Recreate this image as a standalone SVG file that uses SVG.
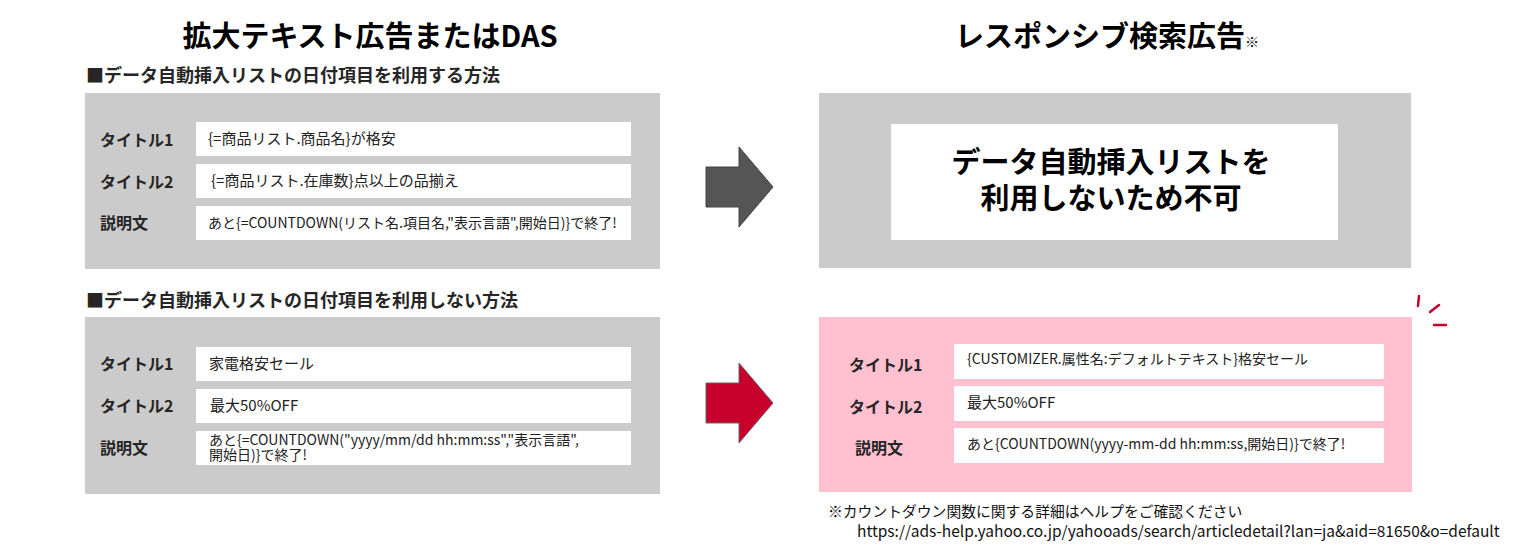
<svg xmlns="http://www.w3.org/2000/svg" width="1517" height="545" viewBox="0 0 1517 545">
<style>
text{font-family:"Noto Sans CJK JP","Liberation Sans",sans-serif;fill:#222}
.h{font-size:29px;font-weight:bold;fill:#000}
.sub{font-size:18px;font-weight:bold;fill:#262626}
.lab{font-size:16px;font-weight:bold;fill:#262626}
.val{font-size:15px;fill:#222}
.val2{font-size:14px;fill:#222}
.big{font-size:29px;font-weight:bold;fill:#000;text-anchor:middle}
.note{font-size:14.8px;fill:#111}
.url{font-size:15.5px;fill:#111}
.gray{fill:#cbcbcb}
.pink{fill:#ffc0cf}
.wb{fill:#fff}
.spark{stroke:#c8002c;stroke-width:2.5;stroke-linecap:round;fill:none}
</style>
<rect width="1517" height="545" fill="#fff"/>
<g id="titles">
<text class="h" x="370" y="47" text-anchor="middle">拡大テキスト広告またはDAS</text>
<text class="h" x="955" y="47">レスポンシブ検索広告<tspan font-size="14px">※</tspan></text>
<text class="sub" x="86" y="82">■データ自動挿入リストの日付項目を利用する方法</text>
<text class="sub" x="86" y="307">■データ自動挿入リストの日付項目を利用しない方法</text>
</g>
<g id="panel-left-1">
<rect class="gray" x="85" y="93" width="575" height="176"/>
<rect class="wb" x="196" y="122" width="435" height="34"/>
<rect class="wb" x="196" y="164" width="435" height="34"/>
<rect class="wb" x="196" y="206" width="435" height="34"/>
<text class="lab" x="100" y="146">タイトル1</text>
<text class="lab" x="100" y="188">タイトル2</text>
<text class="lab" x="100" y="229">説明文</text>
<text class="val" x="208" y="144">{=商品リスト.商品名}が格安</text>
<text class="val" x="211" y="186">{=商品リスト.在庫数}点以上の品揃え</text>
<text class="val2" x="208" y="228">あと{=COUNTDOWN(リスト名.項目名,"表示言語",開始日)}で終了!</text>
</g>
<g id="panel-left-2">
<rect class="gray" x="85" y="317" width="575" height="177"/>
<rect class="wb" x="196" y="347" width="435" height="34"/>
<rect class="wb" x="196" y="389" width="435" height="34"/>
<rect class="wb" x="196" y="431" width="435" height="34"/>
<text class="lab" x="100" y="370">タイトル1</text>
<text class="lab" x="100" y="412">タイトル2</text>
<text class="lab" x="100" y="454">説明文</text>
<text class="val" x="209" y="369">家電格安セール</text>
<text class="val" x="210" y="411">最大50%OFF</text>
<text class="val2" font-size="13.7px"><tspan x="209" y="445">あと{=COUNTDOWN("yyyy/mm/dd hh:mm:ss","表示言語",</tspan><tspan x="209" y="460">開始日)}で終了!</tspan></text>
</g>
<g id="connectors">
<polygon points="706,167 739,167 739,147 773,187 739,227 739,207 706,207" fill="#555" stroke="#444" stroke-width="1"/>
<polygon points="706,383 739,383 739,363 773,403 739,443 739,423 706,423" fill="#c8002c" stroke="#666" stroke-width="1"/>
</g>
<g id="panel-right-1">
<rect class="gray" x="819" y="93" width="592" height="175"/>
<rect class="wb" x="891" y="124" width="447" height="116"/>
<text class="big"><tspan x="1111" y="173">データ自動挿入リストを</tspan><tspan x="1111" y="209">利用しないため不可</tspan></text>
</g>
<g id="panel-right-2">
<rect class="pink" x="819" y="317" width="593" height="175"/>
<rect class="wb" x="954" y="344" width="430" height="35"/>
<rect class="wb" x="954" y="386" width="430" height="35"/>
<rect class="wb" x="954" y="428" width="430" height="35"/>
<text class="lab" x="849" y="371">タイトル1</text>
<text class="lab" x="849" y="413">タイトル2</text>
<text class="lab" x="855" y="454">説明文</text>
<text class="val2" x="967" y="364" font-size="13.5px">{CUSTOMIZER.属性名:デフォルトテキスト}格安セール</text>
<text class="val" x="967" y="408">最大50%OFF</text>
<text class="val2" x="967" y="449">あと{COUNTDOWN(yyyy-mm-dd hh:mm:ss,開始日)}で終了!</text>
<path class="spark" d="M1419,296 L1418,306 M1430,312 L1439,305 M1434,325 L1446,325"/>
</g>
<g id="footnote">
<text class="note" x="828" y="517">※カウントダウン関数に関する詳細はヘルプをご確認ください</text>
<text class="url" x="857" y="537">https://ads-help.yahoo.co.jp/yahooads/search/articledetail?lan=ja&amp;aid=81650&amp;o=default</text>
</g>
</svg>
